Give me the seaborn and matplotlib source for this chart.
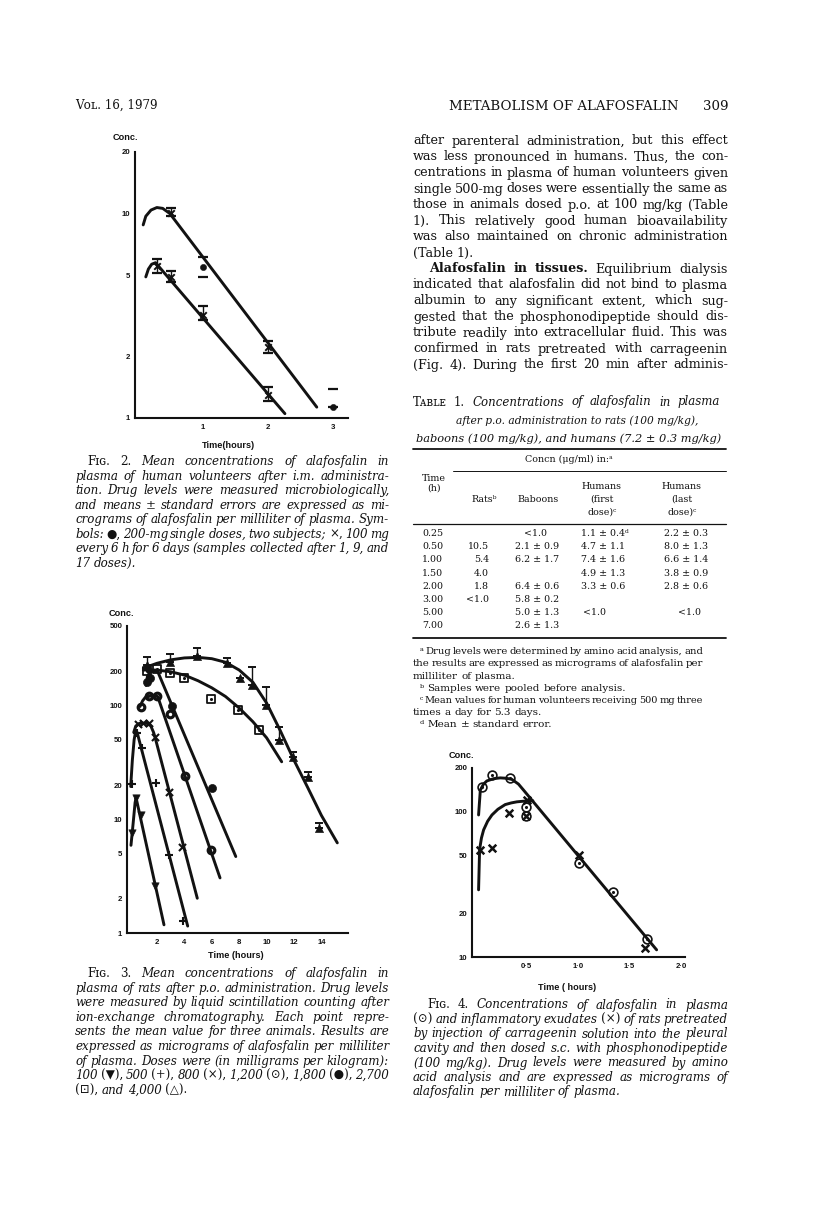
import matplotlib
matplotlib.use("Agg")
import matplotlib.pyplot as plt
import seaborn as sns
from matplotlib.lines import Line2D
from matplotlib.ticker import FixedLocator, NullLocator

W, H = 816, 1214
INK = "#121212"
SERIF = ["DejaVu Serif", "DejaVu Sans"]
SANS = ["Liberation Sans", "DejaVu Sans"]

# ---------------- Fig. 2 : human volunteers, i.m. ----------------
f2_hi_curve_t = [0.08, 0.12, 0.2, 0.29, 0.38, 0.49, 2.75]
f2_hi_curve_c = [8.8, 9.7, 10.4, 10.7, 10.6, 10.0, 1.13]
f2_lo_curve_t = [0.12, 0.16, 0.21, 0.27, 2.26]
f2_lo_curve_c = [4.9, 5.35, 5.65, 5.75, 1.05]
f2_x_t = [0.5, 2.0, 0.3, 0.5, 1.0, 2.0]
f2_x_c = [10.1, 2.23, 5.55, 4.9, 3.2, 1.3]
f2_x_lo = [0.4, 0.15, 0.45, 0.3, 0.2, 0.09]
f2_x_hi = [0.5, 0.15, 0.45, 0.35, 0.34, 0.12]
f2_dot_t = [1.0, 3.0]
f2_dot_c = [5.5, 1.13]
f2_dot_lo = [0.6, 0.0]
f2_dot_hi = [0.65, 0.26]

# ---------------- Fig. 3 : rats, p.o. (mg/kg doses) ----------------
f3_100_t = [0.15, 0.47, 0.81, 1.85]
f3_100_c = [7.5, 15.4, 10.8, 2.6]
f3_100_curve_t = [0.1, 0.25, 0.4, 0.47, 2.51]
f3_100_curve_c = [5.9, 9.0, 14.0, 15.5, 1.18]

f3_500_t = [0.15, 0.52, 0.88, 1.93, 2.88, 3.92]
f3_500_c = [20.3, 57, 42, 21, 4.85, 1.28]
f3_500_curve_t = [0.08, 0.2, 0.33, 0.45, 0.55, 4.24]
f3_500_curve_c = [19.4, 33, 50, 60, 58, 1.15]

f3_800_t = [0.6, 1.0, 1.4, 1.85, 2.88, 3.86]
f3_800_c = [69, 70, 70, 53, 17.5, 5.7]
f3_800_curve_t = [0.3, 0.45, 0.7, 1.0, 1.3, 1.55, 1.75, 1.85, 4.94]
f3_800_curve_c = [58, 66, 69.5, 70, 69.5, 66, 58, 53, 2.02]

f3_1200_t = [0.81, 1.42, 2.02, 2.95, 4.04, 5.92]
f3_1200_c = [98, 120, 120, 84, 24, 5.4]
f3_1200_curve_t = [0.76, 0.95, 1.15, 1.5, 1.8, 2.05, 6.6]
f3_1200_curve_c = [98, 110, 118, 121, 121, 120, 3.05]

f3_1800_t = [1.25, 1.49, 3.07, 6.0]
f3_1800_c = [160, 175, 99, 18.7]
f3_1800_curve_t = [1.2, 1.3, 1.45, 1.7, 2.05, 7.75]
f3_1800_curve_c = [150, 180, 195, 200, 199, 4.7]

f3_2700_t = [1.25, 2.02, 2.95, 3.97, 5.92, 7.94, 9.45]
f3_2700_c = [201, 209, 192, 174, 115, 91.5, 61]
f3_2700_curve_t = [1.0, 2.0, 3.0, 4.0, 5.0, 6.0, 7.0, 8.0, 9.0, 10.0, 11.1]
f3_2700_curve_c = [205, 205, 198, 185, 165, 143, 120, 95, 72, 52, 32]

f3_4000_t = [1.29, 2.95, 4.94, 7.09, 8.06, 8.96, 9.96, 10.93, 11.9, 13.05, 13.85]
f3_4000_c = [228, 243, 273, 235, 174, 152, 101, 50, 35, 23.4, 8.4]
f3_4000_up = [38, 41, 48, 25, 0, 68, 44, 15, 4, 2.6, 0.8]
f3_4000_curve_t = [1.0, 2.0, 3.0, 4.0, 5.0, 6.0, 7.0, 8.0, 9.0, 10.0, 11.0, 12.0, 13.0, 14.0, 15.16]
f3_4000_curve_c = [213, 235, 252, 262, 265, 258, 240, 205, 160, 105, 60, 33, 19, 10.8, 6.2]

# ---------------- Fig. 4 : plasma vs exudate ----------------
f4_plasma_t = [0.065, 0.162, 0.333, 0.495, 0.495, 1.013, 1.337, 1.667]
f4_plasma_c = [149, 179, 170, 108, 93, 44.7, 28.2, 13.3]
f4_plasma_curve_t = [0.032, 0.049, 0.08, 0.113, 0.18, 0.243, 0.30, 0.356, 0.42, 0.469, 1.764]
f4_plasma_curve_c = [95, 141, 155, 163, 169, 171, 170, 167, 155, 141, 11.2]
f4_exud_t = [0.042, 0.162, 0.324, 0.5, 0.495, 1.013, 1.65]
f4_exud_c = [54.6, 56, 98.4, 120, 93, 50.5, 11.5]
f4_exud_curve_t = [0.032, 0.042, 0.06, 0.081, 0.12, 0.162, 0.22, 0.291, 0.35, 0.405, 0.46, 0.56]
f4_exud_curve_c = [29, 55, 66, 75, 86, 95, 104, 112, 115, 117, 118, 119]

# ---------------- Table 1 ----------------
tbl_time = ["0.25", "0.50", "1.00", "1.50", "2.00", "3.00", "5.00", "7.00"]
tbl_rats = ["", "10.5", "5.4", "4.0", "1.8", "<1.0", "", ""]
tbl_baboons = ["<1.0", "2.1 ± 0.9", "6.2 ± 1.7", "", "6.4 ± 0.6", "5.8 ± 0.2", "5.0 ± 1.3", "2.6 ± 1.3"]
tbl_h_first = ["1.1 ± 0.4ᵈ", "4.7 ± 1.1", "7.4 ± 1.6", "4.9 ± 1.3", "3.3 ± 0.6", "", "<1.0", ""]
tbl_h_last = ["2.2 ± 0.3", "8.0 ± 1.3", "6.6 ± 1.4", "3.8 ± 0.9", "2.8 ± 0.6", "", "<1.0", ""]

# ---------------- running text ----------------
body_lines = [
    "after parenteral administration, but this effect",
    "was less pronounced in humans. Thus, the con-",
    "centrations in plasma of human volunteers given",
    "single 500-mg doses were essentially the same as",
    "those in animals dosed p.o. at 100 mg/kg (Table",
    "1). This relatively good human bioavailability",
    "was also maintained on chronic administration",
    "(Table 1).~",
    ">*Alafosfalin *in *tissues. Equilibrium dialysis",
    "indicated that alafosfalin did not bind to plasma",
    "albumin to any significant extent, which sug-",
    "gested that the phosphonodipeptide should dis-",
    "tribute readily into extracellular fluid. This was",
    "confirmed in rats pretreated with carrageenin",
    "(Fig. 4). During the first 20 min after adminis-",
]
cap2_lines = [
    ">^Fɪɢ. ^2. Mean concentrations of alafosfalin in",
    "plasma of human volunteers after i.m. administra-",
    "tion. Drug levels were measured microbiologically,",
    "and means ± standard errors are expressed as mi-",
    "crograms of alafosfalin per milliliter of plasma. Sym-",
    "bols: ^●, 200-mg single doses, two subjects; ^×, 100 mg",
    "every 6 h for 6 days (samples collected after 1, 9, and",
    "17 doses).~",
]
cap3_lines = [
    ">^Fɪɢ. ^3. Mean concentrations of alafosfalin in",
    "plasma of rats after p.o. administration. Drug levels",
    "were measured by liquid scintillation counting after",
    "ion-exchange chromatography. Each point repre-",
    "sents the mean value for three animals. Results are",
    "expressed as micrograms of alafosfalin per milliliter",
    "of plasma. Doses were (in milligrams per kilogram):",
    "100 (^▼), 500 (^+), 800 (^×), 1,200 (^⊙), 1,800 (^●), 2,700",
    "(^⊡), and 4,000 (^△).~",
]
cap4_lines = [
    ">^Fɪɢ. ^4. Concentrations of alafosfalin in plasma",
    "(^⊙) and inflammatory exudates (^×) of rats pretreated",
    "by injection of carrageenin solution into the pleural",
    "cavity and then dosed s.c. with phosphonodipeptide",
    "(100 mg/kg). Drug levels were measured by amino",
    "acid analysis and are expressed as micrograms of",
    "alafosfalin per milliliter of plasma.~",
]
foot_lines = [
    ">ᵃ Drug levels were determined by amino acid analysis, and",
    "the results are expressed as micrograms of alafosfalin per",
    "milliliter of plasma.~",
    ">ᵇ Samples were pooled before analysis.~",
    ">ᶜ Mean values for human volunteers receiving 500 mg three",
    "times a day for 5.3 days.~",
    ">ᵈ Mean ± standard error.~",
]

sns.set_style("white")
plt.rcParams["font.family"] = SERIF

fig = plt.figure(figsize=(W / 100, H / 100), dpi=100)
renderer = fig.canvas.get_renderer()


def fx(x):
    return x / W


def fy(y):
    return 1 - y / H


def text_w(s, size, style, weight):
    t = fig.text(0, 0, s, fontsize=size, style=style, weight=weight, family=SERIF)
    w = t.get_window_extent(renderer=renderer).width
    t.remove()
    return w


def paragraph(lines, x0, x1, y0, dy, size, style="normal", indent=12):
    space = text_w("a a", size, style, "normal") - text_w("aa", size, style, "normal")
    for i, raw in enumerate(lines):
        y = y0 + i * dy
        left = x0
        ragged = raw.endswith("~")
        s = raw.rstrip("~")
        if s.startswith(">"):
            left = x0 + indent
            s = s[1:]
        words = []
        for w in s.split(" "):
            st, wt = style, "normal"
            if "^" in w:
                st = "normal"
                w = w.replace("^", "")
            elif w.startswith("*"):
                wt = "bold"
                w = w[1:]
            words.append((w, st, wt))
        sz = size
        widths = [text_w(w, sz, st, wt) for w, st, wt in words]
        # shrink a line slightly if it would not fit with tight spaces
        if not ragged and len(words) > 1:
            need = sum(widths) + 0.55 * space * (len(words) - 1)
            if need > x1 - left:
                sz = size * (x1 - left) / need
                widths = [text_w(w, sz, st, wt) for w, st, wt in words]
        if ragged or len(words) == 1:
            gap = space
        else:
            gap = (x1 - left - sum(widths)) / (len(words) - 1)
        x = left
        for (w, st, wt), wd in zip(words, widths):
            fig.text(fx(x), fy(y + 3.5), w, fontsize=sz, style=st, weight=wt,
                     family=SERIF, color=INK, va="baseline", ha="left")
            x += wd + gap


def hrule(x0, x1, y, lw):
    fig.add_artist(Line2D([fx(x0), fx(x1)], [fy(y), fy(y)], transform=fig.transFigure,
                          color=INK, lw=lw))


def make_axes(x0, x1, y0, y1):
    return fig.add_axes([fx(x0), fy(y1), (x1 - x0) / W, (y1 - y0) / H])


def style_axis(ax, xlim, ylim, yticks, xticks, xlabels):
    ax.set_yscale("log")
    ax.set_xlim(*xlim)
    ax.set_ylim(*ylim)
    ax.yaxis.set_major_locator(FixedLocator(yticks))
    ax.yaxis.set_minor_locator(NullLocator())
    ax.set_yticklabels([str(v) for v in yticks])
    ax.set_xticks(xticks)
    ax.set_xticklabels(xlabels)
    ax.set_xlabel("")
    ax.set_ylabel("")
    sns.despine(ax=ax)
    for s in ["left", "bottom"]:
        ax.spines[s].set_linewidth(1.5)
        ax.spines[s].set_color(INK)
    ax.tick_params(axis="y", length=3, width=1.3, pad=0.5, labelsize=5.6, colors=INK)
    ax.tick_params(axis="x", length=0, pad=4, labelsize=5.6, colors=INK)
    for lab in ax.get_xticklabels() + ax.get_yticklabels():
        lab.set_fontweight("bold")
        lab.set_family(SANS)
    ax.patch.set_alpha(0)


def curve(ax, t, c, lw=2.1):
    sns.lineplot(x=t, y=c, ax=ax, sort=False, estimator=None, color=INK, lw=lw)


def label(x, y, s, ha="left", size=6.6):
    fig.text(fx(x), fy(y), s, fontsize=size, weight="bold", family=SANS,
             color=INK, ha=ha, va="center")


# ---------------- Fig. 2 ----------------
ax2 = make_axes(135, 348, 152, 418)
style_axis(ax2, (-0.046, 3.23), (1, 20), [1, 2, 5, 10, 20], [1, 2, 3], ["1", "2", "3"])
curve(ax2, f2_hi_curve_t, f2_hi_curve_c)
curve(ax2, f2_lo_curve_t, f2_lo_curve_c)
ax2.errorbar(f2_x_t, f2_x_c, yerr=[f2_x_lo, f2_x_hi], fmt="none", ecolor=INK,
             elinewidth=1.0, capsize=3.5, capthick=1.6)
sns.scatterplot(x=f2_x_t, y=f2_x_c, ax=ax2, marker="x", s=22, color=INK, linewidth=1.4)
ax2.errorbar(f2_dot_t, f2_dot_c, yerr=[f2_dot_lo, f2_dot_hi], fmt="none", ecolor=INK,
             elinewidth=0, capsize=3.5, capthick=1.6)
sns.scatterplot(x=f2_dot_t, y=f2_dot_c, ax=ax2, marker="o", s=20, color=INK, edgecolor=INK)
label(113, 138, "Conc.")
label(228, 445, "Time(hours)", ha="center")

# ---------------- Fig. 3 ----------------
ax3 = make_axes(127, 348, 626, 933)
style_axis(ax3, (-0.19, 15.94), (1, 500), [1, 2, 5, 10, 20, 50, 100, 200, 500],
           [2, 4, 6, 8, 10, 12, 14], ["2", "4", "6", "8", "10", "12", "14"])
for ct, cc in [(f3_100_curve_t, f3_100_curve_c), (f3_500_curve_t, f3_500_curve_c),
               (f3_800_curve_t, f3_800_curve_c), (f3_1200_curve_t, f3_1200_curve_c),
               (f3_1800_curve_t, f3_1800_curve_c), (f3_2700_curve_t, f3_2700_curve_c),
               (f3_4000_curve_t, f3_4000_curve_c)]:
    curve(ax3, ct, cc)
sns.scatterplot(x=f3_100_t, y=f3_100_c, ax=ax3, marker="v", s=28, color=INK, edgecolor=INK)
sns.scatterplot(x=f3_500_t, y=f3_500_c, ax=ax3, marker="+", s=40, color=INK, linewidth=1.5)
sns.scatterplot(x=f3_800_t, y=f3_800_c, ax=ax3, marker="x", s=26, color=INK, linewidth=1.5)
sns.scatterplot(x=f3_1200_t, y=f3_1200_c, ax=ax3, marker="o", s=34, color=INK,
                edgecolor=INK, linewidth=1.2)
sns.scatterplot(x=f3_1200_t, y=f3_1200_c, ax=ax3, marker="o", s=6, color="white", linewidth=0)
sns.scatterplot(x=f3_1800_t, y=f3_1800_c, ax=ax3, marker="o", s=34, color=INK, edgecolor=INK)
sns.scatterplot(x=f3_2700_t, y=f3_2700_c, ax=ax3, marker="s", s=30, color="white",
                edgecolor=INK, linewidth=1.3)
sns.scatterplot(x=f3_2700_t, y=f3_2700_c, ax=ax3, marker="o", s=5, color=INK, linewidth=0)
ax3.errorbar(f3_4000_t, f3_4000_c, yerr=[[0] * len(f3_4000_up), f3_4000_up], fmt="none",
             ecolor=INK, elinewidth=1.0, capsize=3, capthick=1.4)
sns.scatterplot(x=f3_4000_t, y=f3_4000_c, ax=ax3, marker="^", s=34, color=INK, edgecolor=INK)
label(109, 613, "Conc.")
label(236, 956, "Time (hours)", ha="center")

# ---------------- Fig. 4 ----------------
ax4 = make_axes(472, 685, 768, 957)
style_axis(ax4, (-0.032, 2.04), (10, 200), [10, 20, 50, 100, 200],
           [0.5, 1.0, 1.5, 2.0], ["0·5", "1·0", "1·5", "2·0"])
curve(ax4, f4_plasma_curve_t, f4_plasma_curve_c)
curve(ax4, f4_exud_curve_t, f4_exud_curve_c)
sns.scatterplot(x=f4_plasma_t, y=f4_plasma_c, ax=ax4, marker="o", s=40, color="white",
                edgecolor=INK, linewidth=1.2)
sns.scatterplot(x=f4_plasma_t, y=f4_plasma_c, ax=ax4, marker="o", s=5, color=INK, linewidth=0)
sns.scatterplot(x=f4_exud_t, y=f4_exud_c, ax=ax4, marker="x", s=30, color=INK, linewidth=1.8)
label(449, 755, "Conc.")
label(567, 987, "Time ( hours)", ha="center")

# ---------------- page header ----------------
fig.text(fx(75), fy(109), "Vᴏʟ. 16, 1979", fontsize=8.6, family=SERIF, color=INK, va="baseline")
fig.text(fx(449), fy(110), "METABOLISM OF ALAFOSFALIN", fontsize=9.6, family=SERIF,
         color=INK, va="baseline")
fig.text(fx(728), fy(110), "309", fontsize=9.6, family=SERIF, color=INK, va="baseline", ha="right")

# ---------------- running text and captions ----------------
paragraph(body_lines, 413, 728, 141, 16, 9.2, indent=16)
paragraph(cap2_lines, 75, 389, 461.7, 14.5, 8.6, style="italic")
paragraph(cap3_lines, 75, 389, 973.5, 14.6, 8.6, style="italic")
paragraph(cap4_lines, 413, 728, 1005, 14.5, 8.6, style="italic", indent=14)

# ---------------- Table 1 ----------------
paragraph([">^Tᴀʙʟᴇ ^1. Concentrations of alafosfalin in plasma"], 413, 720, 402, 0,
          8.5, style="italic", indent=0)
fig.text(fx(577), fy(424.5), "after p.o. administration to rats (100 mg/kg),", fontsize=7.7,
         style="italic", family=SERIF, color=INK, ha="center", va="baseline")
fig.text(fx(569), fy(442.5), "baboons (100 mg/kg), and humans (7.2 ± 0.3 mg/kg)", fontsize=8.2,
         style="italic", family=SERIF, color=INK, ha="center", va="baseline")
hrule(413, 726, 448.5, 1.3)
fig.text(fx(569), fy(462), "Concn (μg/ml) in:ᵃ", fontsize=6.8, family=SERIF, color=INK,
         ha="center", va="baseline")
hrule(453, 726, 471, 0.7)
tf = dict(fontsize=6.8, family=SERIF, color=INK, va="baseline")
fig.text(fx(434), fy(481), "Time", ha="center", **tf)
fig.text(fx(434), fy(491), "(h)", ha="center", **tf)
fig.text(fx(484), fy(502), "Ratsᵇ", ha="center", **tf)
fig.text(fx(538), fy(502), "Baboons", ha="center", **tf)
for xc in (602, 682):
    fig.text(fx(xc), fy(489), "Humans", ha="center", **tf)
fig.text(fx(602), fy(502), "(first", ha="center", **tf)
fig.text(fx(682), fy(502), "(last", ha="center", **tf)
fig.text(fx(602), fy(514.5), "dose)ᶜ", ha="center", **tf)
fig.text(fx(682), fy(514.5), "dose)ᶜ", ha="center", **tf)
hrule(413, 726, 523.5, 0.9)
for i in range(len(tbl_time)):
    yb = fy(533 + i * 13.2 + 3)
    fig.text(fx(422), yb, tbl_time[i], ha="left", **tf)
    fig.text(fx(489), yb, tbl_rats[i], ha="right", **tf)
    b = tbl_baboons[i]
    fig.text(fx(524 if b.startswith("<") else 515), yb, b, ha="left", **tf)
    h1 = tbl_h_first[i]
    fig.text(fx(583 if h1.startswith("<") else 581), yb, h1, ha="left", **tf)
    h2 = tbl_h_last[i]
    fig.text(fx(678 if h2.startswith("<") else 664), yb, h2, ha="left", **tf)
hrule(413, 726, 637.5, 1.3)
paragraph(foot_lines, 413, 703, 650.7, 12.2, 7.5, indent=7)

fig.savefig("out.png", dpi=100, facecolor="white")
